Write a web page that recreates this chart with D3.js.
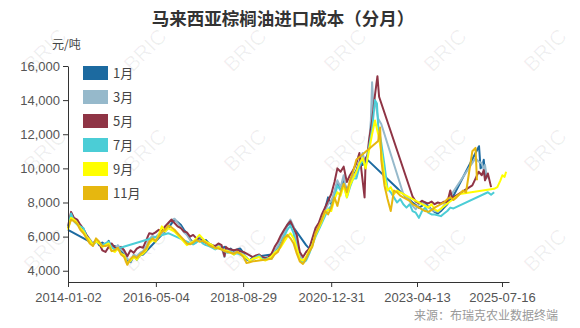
<!DOCTYPE html>
<html>
<head>
<meta charset="utf-8">
<script src="https://cdn.jsdelivr.net/npm/d3@7"></script>
<style>
  body { margin: 0; background: #fff; }
  svg { font-family: "Microsoft YaHei", "Noto Sans CJK SC", sans-serif; }
  .axis path, .axis line { stroke: #333; }
  .axis text { fill: #555; font-size: 13px; }
</style>
</head>
<body>
<svg id="chart" width="580" height="328"></svg>
<script>
const seriesNames = ["1月", "3月", "5月", "7月", "9月", "11月"];
const seriesColors = ["#1c6aa0", "#96b9cb", "#8f3445", "#4bcdd6", "#ffff00", "#e6b70f"];
const xTickLabels = ["2014-01-02", "2016-05-04", "2018-08-29", "2020-12-31", "2023-04-13", "2025-07-16"];
const yTicks = [4000, 6000, 8000, 10000, 12000, 14000, 16000];

const jan = [["2014-01-02",6400],["2014-09",5600],["2014-10",5800],["2014-11",5500],["2014-12",5650],
  ["2015-01",5500],["2015-02",5750],["2015-03",5350],["2015-04",5450],["2015-05",5300],["2015-06",5150],["2015-07",4950],["2015-08",4600],["2015-09",4500],["2015-10",4850],["2015-11",4650],["2015-12",4900],["2016-01",4950],
  ["2016-09",6500],["2016-10",6750],["2016-11",7000],["2016-12",6850],["2017-01",6700],["2017-02",6400],["2017-03",6200],["2017-04",5850],["2017-05",5650],["2017-06",5750],["2017-07",5950],["2017-08",5700],["2017-09",5800],["2017-10",5600],["2017-11",5500],["2017-12",5350],
  ["2018-01",5500],["2018-02",5300],["2018-03",5400],["2018-04",5200],["2018-05",5300],["2018-06",5100],["2018-07",5250],["2018-08",5300],["2018-09",5050],["2018-10",4650],["2018-11",4600],["2018-12",4800],
  ["2019-06",4950],["2019-07",5150],["2019-08",5350],["2019-09",5800],["2019-10",6300],["2019-11",6650],["2019-12",6800],
  ["2020-05",5500],["2020-06",5300],["2020-07",5650],["2020-08",6100],["2020-09",6500],["2020-10",6900],["2020-11",7600],["2020-12",8300],
  ["2021-01",7900],["2021-02",8600],["2021-03",9200],["2021-04",8800],["2021-05",9300],["2021-06",8700],["2021-07",9100],["2021-08",9500],["2021-09",9900],["2021-10",10400],["2021-11",10200],["2021-12",10600],
  ["2022-10",8850],["2022-11",8650],["2022-12",8500],["2023-01",8300],["2023-02",8150],["2023-03",8000],["2023-04",7850],["2023-05",7700],["2023-06",7800],["2023-07",8000],["2023-08",7750],["2023-09",7600],["2023-10",7450],["2023-11",7350],["2023-12",7500],
  ["2024-01",7700],["2024-02",7900],["2024-03",8200],["2024-04",8400],
  ["2024-12-05",11300],["2024-12-20",10000],["2025-01-05",10100],["2025-01-20",10500],["2025-02-05",9400]];

const mar = [["2014-01-02",6500],["2014-02",7300],["2014-03",7000],["2014-04",6850],["2014-05",6600],["2014-06",6400],["2014-07",6100],["2014-08",5850],["2014-09",5600],["2014-10",5800],["2014-11",5650],["2014-12",5500],
  ["2015-01",5600],["2015-02",5650],["2015-03",5400],["2015-04",5300],["2015-05",5500],["2015-06",5250],["2015-07",5100],["2015-08",4700],["2015-09",4550],["2015-10",4950],["2015-11",4850],["2015-12",5050],
  ["2016-01",5150],["2016-02",5450],["2016-03",5850],["2016-04",6050],["2016-05",5950],["2016-06",6150],["2016-07",6100],["2016-08",6450],["2016-09",6750],["2016-10",6950],["2016-11",7050],["2016-12",6800],
  ["2017-01",6550],["2017-02",6250],["2017-03",6100],["2017-04",5800],["2017-05",5550],["2017-06",5700],["2017-07",5900],["2017-08",5750],["2017-09",5650],["2017-10",5550],["2017-11",5450],["2017-12",5350],
  ["2018-01",5500],["2018-02",5350],["2018-03",4800],["2018-03-20",5300],["2018-04",5200],["2018-05",5150],["2018-06",5050],["2018-07",5200],["2018-08",5100],["2018-09",4950],["2018-10",4800],["2018-11",4550],["2018-12",4650],
  ["2019-01",4750],["2019-02",4850],["2019-03",4700],["2019-04",4650],["2019-05",4700],["2019-06",4850],["2019-07",5200],["2019-08",5450],["2019-09",5850],["2019-10",6250],["2019-11",6700],["2019-12",7000],
  ["2020-01",6600],["2020-02",5700],["2020-03",4900],["2020-04",4600],["2020-05",4750],["2020-06",5150],["2020-07",5700],["2020-08",6300],["2020-09",6700],["2020-10",7100],["2020-11",7500],["2020-12",7900],
  ["2021-01",8100],["2021-02",8600],["2021-03",9300],["2021-04",8900],["2021-05",9600],["2021-06",8400],["2021-07",9100],["2021-08",9700],["2021-09",9500],["2021-10",10400],["2021-11",10900],["2021-12",10200],
  ["2022-01",11400],["2022-01-20",12800],["2022-02",15050],["2022-02-15",13500],["2022-03",14000],["2022-04",12900],["2022-05",12600],
  ["2022-12",8500],["2023-01",8300],["2023-02",8100],["2023-03",7800],["2023-04",7600],["2023-05",7900],["2023-06",8100],["2023-07",7850],["2023-08",7700],["2023-09",7600],["2023-10",7500],["2023-11",7450],["2023-12",7600],
  ["2024-01",7850],["2024-02",8100],
  ["2024-11",10600],["2024-12",10400],["2025-01",10300],["2025-01-20",9900],["2025-02",10200],["2025-02-20",9400]];

const may = [["2014-01-02",6600],["2014-02",7450],["2014-03",7100],["2014-04",7000],["2014-05",6700],["2014-06",6450],["2014-07",6100],["2014-08",5800],["2014-09",5500],["2014-10",5750],["2014-11",5600],["2014-12",5200],
  ["2015-01",5100],["2015-02",5400],["2015-03",5600],["2015-04",5350],["2015-05",5250],["2015-06",5400],["2015-07",5200],["2015-08",4850],["2015-09",5200],["2015-10",5050],["2015-11",5300],["2015-12",5400],
  ["2016-01",5350],["2016-02",5800],["2016-03",6200],["2016-04",6150],["2016-05",6250],["2016-06",6400],["2016-07",6300],["2016-08",6600],["2016-09",6800],["2016-10",7000],["2016-11",6800],["2016-12",6600],
  ["2017-01",6500],["2017-02",6300],["2017-03",6250],["2017-04",6000],["2017-05",6100],["2017-06",5900],["2017-07",5850],["2017-08",5750],["2017-09",5650],["2017-10",5550],["2017-11",5500],["2017-12",5450],
  ["2018-01",5600],["2018-02",5500],["2018-03",4850],["2018-03-15",5400],["2018-04",5300],["2018-05",5250],["2018-06",5200],["2018-07",5250],["2018-08",5150],["2018-09",5100],["2018-10",5000],["2018-11",4900],["2018-12",4800],
  ["2019-01",4900],["2019-02",4950],["2019-03",4800],["2019-04",4750],["2019-05",4800],["2019-06",5000],["2019-07",5400],["2019-08",5700],["2019-09",6100],["2019-10",6400],["2019-11",6700],["2019-12",6900],
  ["2020-01",6500],["2020-02",6100],["2020-03",5100],["2020-04",4800],["2020-05",5100],["2020-06",5300],["2020-07",5900],["2020-08",6500],["2020-09",6800],["2020-10",7300],["2020-11",7700],["2020-12",8100],
  ["2021-01",8500],["2021-02",9200],["2021-03",10000],["2021-04",9800],["2021-05",10100],["2021-06",9200],["2021-07",9600],["2021-08",9900],["2021-09",10300],["2021-10",10900],["2021-11-20",8300],["2021-12",10600],["2021-12-20",10800],
  ["2022-01",11600],["2022-02",12800],["2022-03",14300],["2022-03-25",15400],["2022-04-10",14200],
  ["2023-03",8350],["2023-04",8050],["2023-05",7950],["2023-06",8100],["2023-07",8000],["2023-08",7950],["2023-09",8050],["2023-10",7900],["2023-11",8000],["2023-12",7950],
  ["2024-01",8050],["2024-02",8000],["2024-03",8700],["2024-03-20",8250],["2024-04",8300],
  ["2024-10",9000],["2024-11",9400],["2024-12",9800],["2025-01",9600],["2025-01-20",9900],["2025-02",9300],["2025-03",9700],["2025-04",8900]];

const jul = [["2014-01-02",6500],["2014-02",7350],["2014-03",6900],["2014-04",6700],["2014-05",6600],["2014-06",6500],["2014-07",6000],["2014-08",5700],["2014-09",5500],["2014-10",5700],["2014-11",5600],["2014-12",5500],
  ["2015-01",5600],["2015-02",5700],["2015-03",5350],["2015-04",5250],["2015-05",5300],
  ["2016-09",6200],
  ["2017-05",5550],["2017-06",5650],["2017-07",5800],["2017-08",5600],["2017-09",5500],["2017-10",5450],["2017-11",5350],["2017-12",5250],
  ["2018-01",5350],["2018-02",5250],["2018-03",5150],["2018-04",5050],["2018-05",5100],["2018-06",4950],["2018-07",5050],["2018-08",4950],["2018-09",4850],["2018-10",4750],["2018-11",4600],["2018-12",4700],
  ["2019-01",4800],["2019-02",4900],["2019-03",4700],["2019-04",4650],["2019-05",4750],["2019-06",4700],["2019-07",5050],["2019-08",5250],["2019-09",5550],["2019-10",6000],["2019-11",6400],["2019-12",6650],
  ["2020-01",6200],["2020-02",5200],["2020-03",4700],["2020-04",4450],["2020-05",4600],["2020-06",5000],["2020-07",5500],["2020-08",6000],["2020-09",6400],["2020-10",6800],["2020-11",7200],["2020-12",7600],
  ["2021-01",7800],["2021-02",8300],["2021-03",9000],["2021-04",8700],["2021-05",9100],["2021-06",8300],["2021-07",8900],["2021-08",9400],["2021-09",9400],["2021-10",10100],["2021-11",10500],["2021-12",10100],
  ["2022-01",11200],["2022-02",12300],["2022-03",14000],["2022-03-20",13800],["2022-04",12500],["2022-05",11500],["2022-06",10200],["2022-07",8800],["2022-08",8600],["2022-09",8300],["2022-10",8000],["2022-11",8200],["2022-12",7900],
  ["2023-01",7700],["2023-02",7900],["2023-03",7500],["2023-04",7400],["2023-05",7100],["2023-06",7500],["2023-07",7700],["2023-08",7400],["2023-09",7300],["2023-10",7300],["2023-11",7250],["2023-12",7200],
  ["2024-01",7350],["2024-02",7500],["2024-03",7700],["2024-04",7650],
  ["2025-03",8600],["2025-04",8450],["2025-05",8600]];

const sep = [["2014-01-02",6400],["2014-02",7100],["2014-03",7000],["2014-04",6800],["2014-05",6500],["2014-06",6300],["2014-07",6000],["2014-08",5800],["2014-09",5500],["2014-10",5750],["2014-11",5600],["2014-12",5400],
  ["2015-01",5500],["2015-02",5600],["2015-03",5200],["2015-04",5100],["2015-05",5300],["2015-06",5000],["2015-07",4900],["2015-08",4400],["2015-09",4600],["2015-10",4800],["2015-11",4650],["2015-12",4900],
  ["2016-01",5000],["2016-02",5200],["2016-03",5600],["2016-04",5800],["2016-05",5700],["2016-06",6100],["2016-07",6600],["2016-08",6300],["2016-09",6500],["2016-10",6400],["2016-11",6300],["2016-12",6100],
  ["2017-01",5900],["2017-02",5700],["2017-03",5500],["2017-04",5600],["2017-05",5700],["2017-06",5900],["2017-07",6100],["2017-08",5900],["2017-09",5700],["2017-10",5600],["2017-11",5500],["2017-12",5300],
  ["2018-01",5400],["2018-02",5250],["2018-03",5200],["2018-04",5150],["2018-05",5050],["2018-06",4950],["2018-07",5100],["2018-08",5000],["2018-09",4900],["2018-10",4750],["2018-11",4600],["2018-12",4700],
  ["2019-01",4750],["2019-02",4800],["2019-03",4650],["2019-04",4600],["2019-05",4700],["2019-06",4850],["2019-07",5050],["2019-08",5200],["2019-09",5400],["2019-10",5700],["2019-11",6000],["2019-12",6200],
  ["2020-01",5900],["2020-02",5300],["2020-03",4700],["2020-04",4600],["2020-05",4800],["2020-06",5200],["2020-07",5500],["2020-08",6100],["2020-09",6500],["2020-10",6900],["2020-11",7400],["2020-12",7600],
  ["2021-01",7500],["2021-02",8200],["2021-03",8600],["2021-04",8400],["2021-05",9000],["2021-06",8300],["2021-07",9000],["2021-08",9400],["2021-09",9800],["2021-10",10300],["2021-11",10600],["2021-12",10000],
  ["2022-01",11000],["2022-02",12000],["2022-03",12800],["2022-04",12000],["2022-05",11000],["2022-06",9500],["2022-07",8700],["2022-08",8900],["2022-09",8500],["2022-10",8700],
  ["2023-08",7700],["2023-09",7900],["2023-10",7600],["2023-11",7500],
  ["2024-06",8500],
  ["2025-05",8800],["2025-06",8900],["2025-07",9300],["2025-07-20",9600],["2025-08-10",9500],["2025-08-25",9800]];

const nov = [["2014-01-02",6500],["2014-02",7000],["2014-03",6900],["2014-04",6750],["2014-05",6400],["2014-06",6200],["2014-07",5900],["2014-08",5600],["2014-09",5450],["2014-10",5900],["2014-11",5700],["2014-12",5450],
  ["2015-01",5450],["2015-02",5500],["2015-03",5150],["2015-04",5200],["2015-05",5350],["2015-06",4950],["2015-07",4800],["2015-08",4350],["2015-09",4700],["2015-10",4850],["2015-11",4750],["2015-12",4950],
  ["2016-01",5100],["2016-02",5300],["2016-03",5700],["2016-04",5900],["2016-05",5750],["2016-06",6000],["2016-07",6300],["2016-08",6400],["2016-09",6650],["2016-10",6550],["2016-11",6400],["2016-12",6200],
  ["2017-01",6000],["2017-02",5800],["2017-03",5600],["2017-04",5550],["2017-05",5650],["2017-06",5800],["2017-07",5700],["2017-08",5750],["2017-09",5650],["2017-10",5500],["2017-11",5400],["2017-12",5350],
  ["2018-01",5300],["2018-02",5250],["2018-03",5150],["2018-04",5100],["2018-05",5050],["2018-06",5000],["2018-07",5100],["2018-08",5000],["2018-09",4800],["2018-10",4450],["2018-11",4500],["2018-12",4550],
  ["2019-06",4700],["2019-07",4950],["2019-08",5100],["2019-09",5500],["2019-10",5900],["2019-11",6100],["2019-12",5900],
  ["2020-01",5600],["2020-02",5000],["2020-03",4550],["2020-04",4400],["2020-05",4700],["2020-06",5100],["2020-07",5400],["2020-08",6200],["2020-09",6600],["2020-10",7000],["2020-11",7500],["2020-12",7300],
  ["2021-01",7700],["2021-02",8300],["2021-03",7800],["2021-04",8600],["2021-05",9100],["2021-06",8600],["2021-07",9300],["2021-08",9800],["2021-09",10500],
  ["2022-04",11600],["2022-04-20",12400],["2022-05",10500],["2022-06",9000],["2022-07",8200],["2022-08",7500],["2022-09",8700],["2022-10",8600],["2022-11",8400],["2022-12",8300],
  ["2023-01",8200],["2023-02",8100],["2023-03",7900],["2023-04",7800],["2023-05",7700],["2023-06",7600],["2023-07",7500],["2023-08",7450],["2023-09",7550],["2023-10",7700],["2023-11",7800],["2023-12",7900],
  ["2024-01",8000],["2024-02",8200],["2024-03",8300],["2024-04",8150],["2024-05",8300],["2024-06",8500],["2024-07",8700],["2024-08",8600],
  ["2024-10",11000],["2024-11",11200],["2024-11-15",9300]];

const seriesData = [jan, mar, may, jul, sep, nov];

const svg = d3.select("#chart"),
      margin = {top: 66, right: 71, bottom: 46, left: 68},
      width = +svg.attr("width") - margin.left - margin.right,
      height = +svg.attr("height") - margin.top - margin.bottom;

const parseDay = d3.timeParse("%Y-%m-%d"),
      parseMonth = d3.timeParse("%Y-%m");
const parse = s => parseDay(s) || parseMonth(s);

// watermark
const wm = svg.append("g");
[50, 150, 250].forEach(wy => {
  [45, 145, 245, 345, 445, 545].forEach(wx => {
    wm.append("text")
      .attr("transform", `translate(${wx},${wy}) rotate(-45)`)
      .attr("text-anchor", "middle")
      .attr("dy", "0.35em")
      .style("font-family", "Arial, 'Liberation Sans', sans-serif")
      .style("font-size", "21px")
      .style("fill", "#000")
      .style("fill-opacity", 0.06)
      .text("BRIC");
  });
});

const x = d3.scaleTime()
    .domain([parse("2014-01-02"), parse("2025-09-22")])
    .range([0, width]);
const y = d3.scaleLinear()
    .domain([3340, 16000])
    .range([height, 0]);

const g = svg.append("g")
    .attr("transform", `translate(${margin.left},${margin.top})`);

const line = d3.line()
    .x(d => x(parse(d[0])))
    .y(d => y(d[1]));

seriesData.forEach((s, i) => {
  g.append("path")
    .datum(s)
    .attr("fill", "none")
    .attr("stroke", seriesColors[i])
    .attr("stroke-width", 2)
    .attr("stroke-linejoin", "round")
    .attr("d", line);
});

g.append("g")
    .attr("class", "axis axis-x")
    .attr("transform", `translate(0,${height})`)
    .call(d3.axisBottom(x)
      .tickValues(xTickLabels.map(parse))
      .tickFormat(d3.timeFormat("%Y-%m-%d"))
      .tickSize(5)
      .tickSizeOuter(0))
    .call(a => a.selectAll("text").attr("dy", "0.9em"));

g.append("g")
    .attr("class", "axis axis-y")
    .call(d3.axisLeft(y)
      .tickValues(yTicks)
      .tickFormat(d3.format(","))
      .tickSize(5)
      .tickSizeOuter(0));

// legend
const legend = g.append("g").attr("transform", "translate(15,0)");
seriesNames.forEach((name, i) => {
  legend.append("rect")
    .attr("x", 0)
    .attr("y", i * 24)
    .attr("width", 25)
    .attr("height", 14)
    .attr("fill", seriesColors[i]);
  legend.append("text")
    .attr("x", 30)
    .attr("y", i * 24 + 7)
    .attr("dy", "0.35em")
    .style("font-size", "13px")
    .style("fill", "#444")
    .text(name);
});

svg.append("text")
    .attr("x", 283)
    .attr("y", 25)
    .attr("text-anchor", "middle")
    .style("font-size", "17.5px")
    .style("font-weight", "bold")
    .style("fill", "#333")
    .text("马来西亚棕榈油进口成本（分月）");

svg.append("text")
    .attr("x", 52)
    .attr("y", 49)
    .style("font-size", "12px")
    .style("fill", "#444")
    .text("元/吨");

svg.append("text")
    .attr("x", 558)
    .attr("y", 320)
    .attr("text-anchor", "end")
    .style("font-size", "12px")
    .style("fill", "#999")
    .text("来源：布瑞克农业数据终端");
</script>
</body>
</html>
